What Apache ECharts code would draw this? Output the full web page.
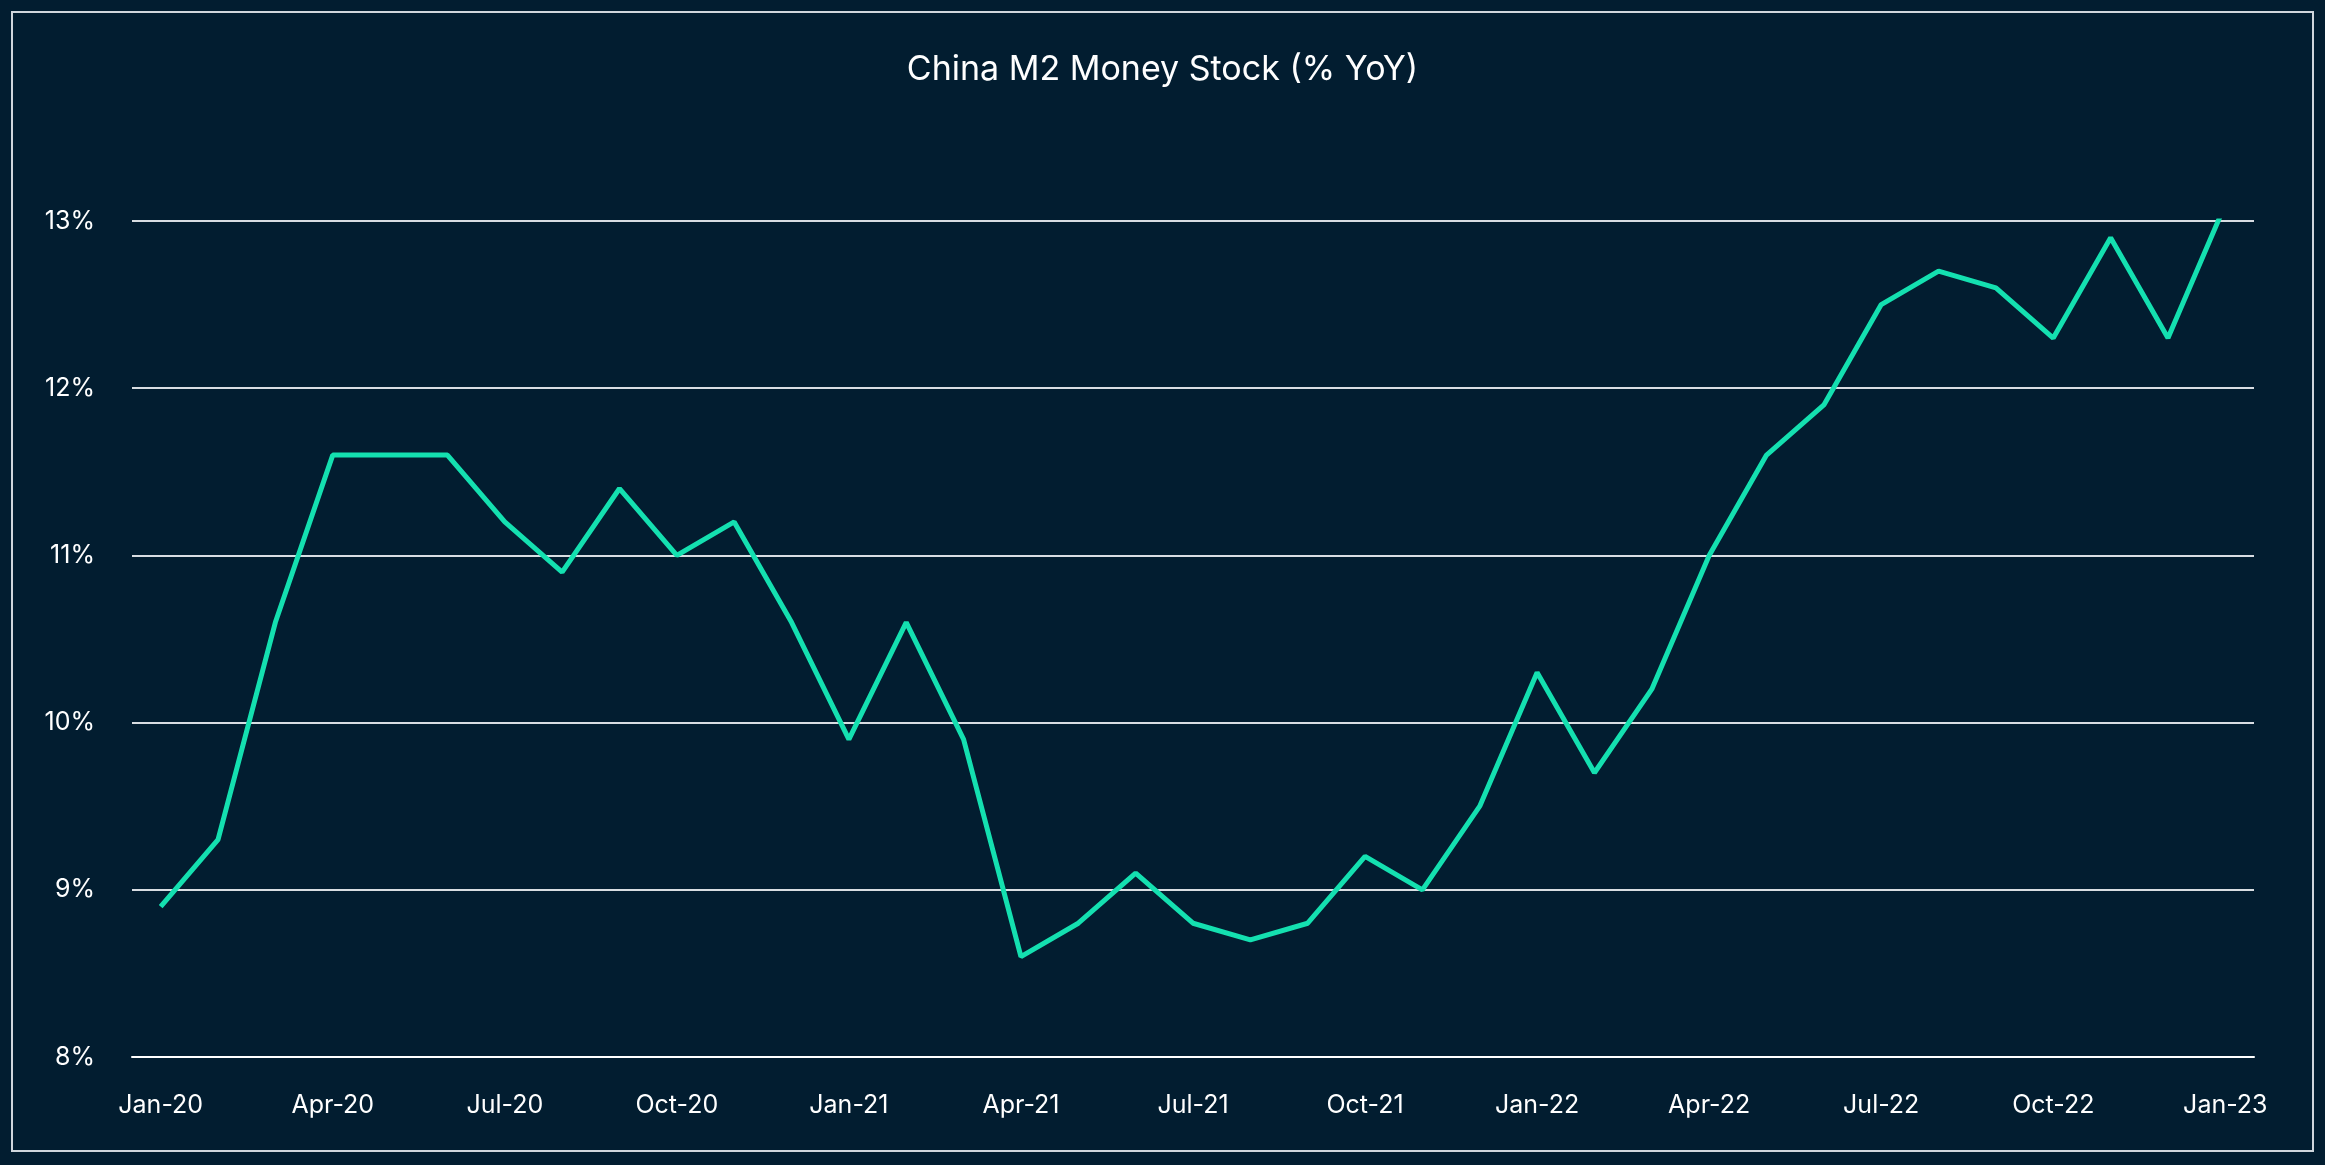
<!DOCTYPE html>
<html><head><meta charset="utf-8">
<script src="https://cdn.jsdelivr.net/npm/echarts@6/dist/echarts.min.js"></script>
<style>html,body{margin:0;padding:0;background:#021d30;}#c{width:2325px;height:1165px;}</style>
</head><body><div id="c"></div>
<script>
const categories = [];
const months = ['Jan','Feb','Mar','Apr','May','Jun','Jul','Aug','Sep','Oct','Nov','Dec'];
for (let y = 20; y <= 23; y++) for (let m = 0; m < 12; m++) { if (y === 23 && m > 0) break; categories.push(months[m] + '-' + y); }
const m2Yoy = [8.9,9.3,10.6,11.6,11.6,11.6,11.2,10.9,11.4,11.0,11.2,10.6,
  9.9,10.6,9.9,8.6,8.8,9.1,8.8,8.7,8.8,9.2,9.0,9.5,
  10.3,9.7,10.2,11.0,11.6,11.9,12.5,12.7,12.6,12.3,12.9,12.3,13.1];
const yTicks = [8,9,10,11,12,13];

const chart = echarts.init(document.getElementById('c'));
chart.setOption({
  backgroundColor: '#021d30',
  title: { text: 'China M2 Money Stock (% YoY)', left: 'center', top: 48,
    textStyle: { color: '#ffffff', fontSize: 34, fontWeight: 'normal', fontFamily: 'Inter' } },
  graphic: [{ type: 'rect', shape: { x: 12, y: 12, width: 2301, height: 1139 },
    style: { fill: 'none', stroke: '#d0d6dc', lineWidth: 2 } }],
  grid: { left: 132, right: 71, top: 221, bottom: 108 },
  xAxis: { type: 'category', data: categories, boundaryGap: true,
    axisLine: { lineStyle: { color: '#ffffff', width: 2 } },
    axisTick: { interval: 2, length: 8, lineStyle: { color: '#ffffff', width: 2 } },
    axisLabel: { interval: 2, color: '#ffffff', fontSize: 25, margin: 36, fontFamily: 'Inter' } },
  yAxis: { type: 'value', min: yTicks[0], max: yTicks[yTicks.length-1], interval: 1,
    axisLine: { show: false }, axisTick: { show: false },
    axisLabel: { color: '#ffffff', fontSize: 25, margin: 37, fontFamily: 'Inter', formatter: v => v + '%' },
    splitLine: { lineStyle: { color: '#d8dde2', width: 2 } } },
  series: [{ type: 'line', data: m2Yoy, clip: false, symbol: 'none',
    lineStyle: { color: '#14e0b0', width: 5 } }]
});
</script></body></html>
